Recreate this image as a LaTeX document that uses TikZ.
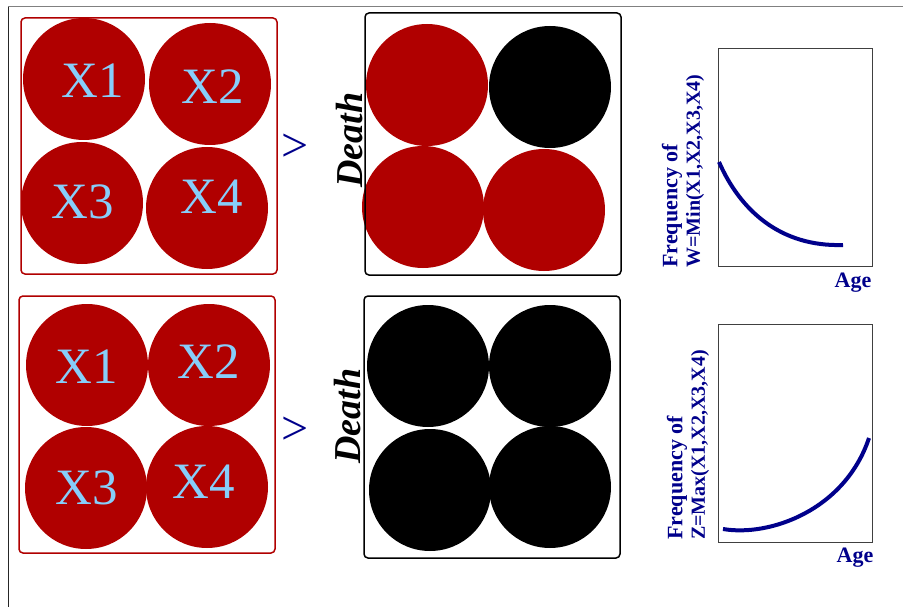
\documentclass[tikz,border=0pt]{standalone}
\usepackage{fontspec}
\setmainfont{Liberation Serif}
\definecolor{dred}{RGB}{176,0,0}
\definecolor{lblue}{RGB}{135,206,250}
\definecolor{dnavy}{RGB}{0,0,139}
\begin{document}
\begin{tikzpicture}[x=1pt,y=-1pt,
  ball/.style={circle,minimum size=122pt,inner sep=0pt,fill=#1},
  xlab/.style={text=lblue,inner sep=0pt,font=\fontsize{51}{51}\selectfont},
  redbox/.style={draw=dred,line width=1.5pt,rounded corners=4pt},
  blkbox/.style={draw=black,line width=1.5pt,rounded corners=4pt},
  plotbox/.style={draw=black!75,line width=0.8pt},
  gt/.style={text=dnavy,inner sep=0pt,font=\fontsize{48}{48}\selectfont},
  deathlab/.style={rotate=90,inner sep=0pt,font=\fontsize{38}{38}\selectfont\bfseries\itshape},
  ylabA/.style={rotate=90,anchor=west,inner sep=0pt,text=dnavy,font=\fontsize{22}{22}\selectfont\bfseries},
  ylabB/.style={rotate=90,anchor=west,inner sep=0pt,text=dnavy,font=\fontsize{20}{20}\selectfont\bfseries},
  agelab/.style={inner sep=0pt,text=dnavy,font=\fontsize{22}{22}\selectfont\bfseries},
  curve/.style={draw=dnavy,line width=4pt}
]
\useasboundingbox (0,0) rectangle (903,607);
% outer frame lines
\coordinate (fTL) at (8,7);
\coordinate (fTR) at (903,7);
\coordinate (fBL) at (8,607);
\draw[black!50,line width=1pt] (fTL) -- (fTR);
\draw[black!85,line width=1pt] (fTL) -- (fBL);

% top-left group
\node[ball=dred] (a1) at (84,79) {};
\node[ball=dred] (a2) at (210,84) {};
\node[ball=dred] (a3) at (82,203) {};
\node[ball=dred] (a4) at (207,208) {};
\node[xlab] (ta1) at (93,81) {X1};
\node[xlab] (ta2) at (213,87) {X2};
\node[xlab] (ta3) at (83,202) {X3};
\node[xlab] (ta4) at (212,197) {X4};
\draw[redbox] (21,18) rectangle (277,274);

% bottom-left group
\node[ball=dred] (b1) at (87,365) {};
\node[ball=dred] (b2) at (209,365) {};
\node[ball=dred] (b3) at (86,488) {};
\node[ball=dred] (b4) at (207,487) {};
\node[xlab] (tb1) at (87,367) {X1};
\node[xlab] (tb2) at (209,362) {X2};
\node[xlab] (tb3) at (87,488) {X3};
\node[xlab] (tb4) at (204,482) {X4};
\draw[redbox] (19,296) rectangle (275,553);

% greater-than signs
\node[gt] (gt1) at (295,148) {>};
\node[gt] (gt2) at (295,431) {>};

% Death labels
\node[deathlab] (d1) at (350,140) {Death};
\node[deathlab] (d2) at (348,416) {Death};

% top-middle group
\node[ball=dred] (c1) at (427,85) {};
\node[ball=black] (c2) at (550,87) {};
\node[ball=dred] (c3) at (423,207) {};
\node[ball=dred] (c4) at (544,210) {};
\draw[blkbox] (365,13) rectangle (621,275);

% bottom-middle group
\node[ball=black] (e1) at (428,366) {};
\node[ball=black] (e2) at (550,366) {};
\node[ball=black] (e3) at (430,490) {};
\node[ball=black] (e4) at (550,487) {};
\draw[blkbox] (364,296) rectangle (620,558);

% top plot
\draw[plotbox] (718,48) rectangle (872,266);
\coordinate (p1s) at (719,162);
\coordinate (p1e) at (843,245);
\draw[curve] (p1s) .. controls (740,210) and (780,247) .. (p1e);
\node[ylabA] (fa1) at (672,268) {Frequency of};
\node[ylabB] (fa2) at (695,268) {W=Min(X1,X2,X3,X4)};
\node[agelab] (ag1) at (853,283) {Age};

% bottom plot
\draw[plotbox] (718,324) rectangle (872,542);
\coordinate (p2s) at (723,529);
\coordinate (p2e) at (869,438);
\draw[curve] (p2s) .. controls (770,537) and (845,510) .. (p2e);
\node[ylabA] (fb1) at (677,540) {Frequency of};
\node[ylabB] (fb2) at (700,540) {Z=Max(X1,X2,X3,X4)};
\node[agelab] (ag2) at (855,558) {Age};
\end{tikzpicture}
\end{document}
